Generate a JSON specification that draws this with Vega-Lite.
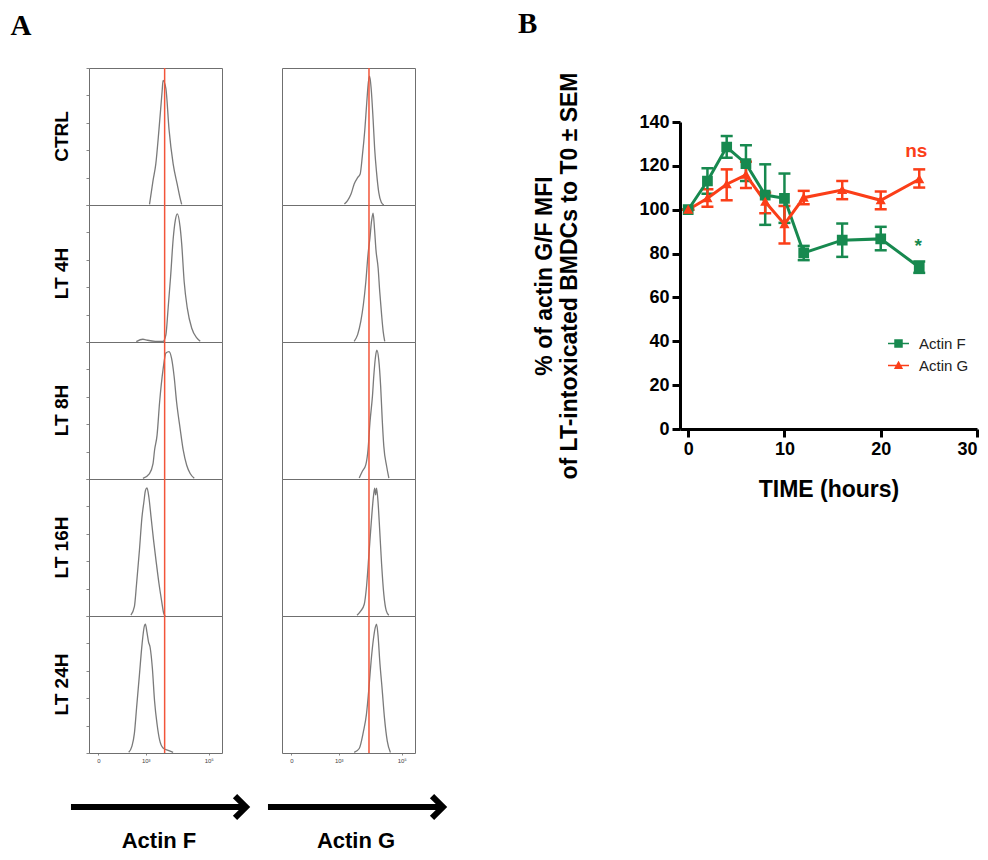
{
  "$schema": "https://vega.github.io/schema/vega-lite/v6.json",
  "background": "white",
  "padding": {"left": 10, "top": 10, "right": 3, "bottom": 2},
  "config": {"view": {"stroke": null}, "font": "Liberation Sans", "axisX": {"labelOverlap": false}, "axis": {"labelOverlap": false}},
  "datasets": {
    "hist": [
      {"kind":"c","cond":"CTRL","ch":"Actin F","x":3.12,"y":0.5},{"kind":"c","cond":"CTRL","ch":"Actin F","x":3.23,"y":17.6},{"kind":"c","cond":"CTRL","ch":"Actin F","x":3.32,"y":30},{"kind":"c","cond":"CTRL","ch":"Actin F","x":3.42,"y":55},{"kind":"c","cond":"CTRL","ch":"Actin F","x":3.52,"y":83},{"kind":"c","cond":"CTRL","ch":"Actin F","x":3.55,"y":91},{"kind":"c","cond":"CTRL","ch":"Actin F","x":3.64,"y":85},{"kind":"c","cond":"CTRL","ch":"Actin F","x":3.74,"y":55},{"kind":"c","cond":"CTRL","ch":"Actin F","x":3.87,"y":30},{"kind":"c","cond":"CTRL","ch":"Actin F","x":4.0,"y":15},{"kind":"c","cond":"CTRL","ch":"Actin F","x":4.09,"y":5},{"kind":"c","cond":"CTRL","ch":"Actin F","x":4.14,"y":0.5},
      {"kind":"c","cond":"LT 4H","ch":"Actin F","x":2.7,"y":0.3},{"kind":"c","cond":"LT 4H","ch":"Actin F","x":2.91,"y":2},{"kind":"c","cond":"LT 4H","ch":"Actin F","x":3.01,"y":1.5},{"kind":"c","cond":"LT 4H","ch":"Actin F","x":3.3,"y":0.5},{"kind":"c","cond":"LT 4H","ch":"Actin F","x":3.55,"y":0.5},{"kind":"c","cond":"LT 4H","ch":"Actin F","x":3.64,"y":5.3},{"kind":"c","cond":"LT 4H","ch":"Actin F","x":3.71,"y":24.5},{"kind":"c","cond":"LT 4H","ch":"Actin F","x":3.79,"y":48},{"kind":"c","cond":"LT 4H","ch":"Actin F","x":3.87,"y":75},{"kind":"c","cond":"LT 4H","ch":"Actin F","x":3.94,"y":89},{"kind":"c","cond":"LT 4H","ch":"Actin F","x":4.0,"y":93.5},{"kind":"c","cond":"LT 4H","ch":"Actin F","x":4.09,"y":84},{"kind":"c","cond":"LT 4H","ch":"Actin F","x":4.14,"y":72},{"kind":"c","cond":"LT 4H","ch":"Actin F","x":4.22,"y":44},{"kind":"c","cond":"LT 4H","ch":"Actin F","x":4.32,"y":24.5},{"kind":"c","cond":"LT 4H","ch":"Actin F","x":4.46,"y":10},{"kind":"c","cond":"LT 4H","ch":"Actin F","x":4.62,"y":3},{"kind":"c","cond":"LT 4H","ch":"Actin F","x":4.73,"y":0.5},
      {"kind":"c","cond":"LT 8H","ch":"Actin F","x":2.91,"y":0.5},{"kind":"c","cond":"LT 8H","ch":"Actin F","x":3.12,"y":4},{"kind":"c","cond":"LT 8H","ch":"Actin F","x":3.23,"y":11},{"kind":"c","cond":"LT 8H","ch":"Actin F","x":3.28,"y":21},{"kind":"c","cond":"LT 8H","ch":"Actin F","x":3.36,"y":32},{"kind":"c","cond":"LT 8H","ch":"Actin F","x":3.44,"y":56},{"kind":"c","cond":"LT 8H","ch":"Actin F","x":3.55,"y":80},{"kind":"c","cond":"LT 8H","ch":"Actin F","x":3.64,"y":92},{"kind":"c","cond":"LT 8H","ch":"Actin F","x":3.74,"y":93},{"kind":"c","cond":"LT 8H","ch":"Actin F","x":3.82,"y":88},{"kind":"c","cond":"LT 8H","ch":"Actin F","x":3.9,"y":75},{"kind":"c","cond":"LT 8H","ch":"Actin F","x":3.98,"y":56},{"kind":"c","cond":"LT 8H","ch":"Actin F","x":4.09,"y":37},{"kind":"c","cond":"LT 8H","ch":"Actin F","x":4.19,"y":21},{"kind":"c","cond":"LT 8H","ch":"Actin F","x":4.3,"y":10},{"kind":"c","cond":"LT 8H","ch":"Actin F","x":4.41,"y":4},{"kind":"c","cond":"LT 8H","ch":"Actin F","x":4.54,"y":0.5},
      {"kind":"c","cond":"LT 16H","ch":"Actin F","x":2.53,"y":0.7},{"kind":"c","cond":"LT 16H","ch":"Actin F","x":2.64,"y":6.8},{"kind":"c","cond":"LT 16H","ch":"Actin F","x":2.71,"y":23.7},{"kind":"c","cond":"LT 16H","ch":"Actin F","x":2.8,"y":48},{"kind":"c","cond":"LT 16H","ch":"Actin F","x":2.88,"y":72},{"kind":"c","cond":"LT 16H","ch":"Actin F","x":2.94,"y":83},{"kind":"c","cond":"LT 16H","ch":"Actin F","x":2.99,"y":91.5},{"kind":"c","cond":"LT 16H","ch":"Actin F","x":3.04,"y":93.5},{"kind":"c","cond":"LT 16H","ch":"Actin F","x":3.1,"y":86.7},{"kind":"c","cond":"LT 16H","ch":"Actin F","x":3.17,"y":72},{"kind":"c","cond":"LT 16H","ch":"Actin F","x":3.25,"y":55},{"kind":"c","cond":"LT 16H","ch":"Actin F","x":3.34,"y":38},{"kind":"c","cond":"LT 16H","ch":"Actin F","x":3.42,"y":23.7},{"kind":"c","cond":"LT 16H","ch":"Actin F","x":3.5,"y":11.6},{"kind":"c","cond":"LT 16H","ch":"Actin F","x":3.57,"y":2},{"kind":"c","cond":"LT 16H","ch":"Actin F","x":3.62,"y":0},
      {"kind":"c","cond":"LT 24H","ch":"Actin F","x":2.46,"y":0.5},{"kind":"c","cond":"LT 24H","ch":"Actin F","x":2.56,"y":4.8},{"kind":"c","cond":"LT 24H","ch":"Actin F","x":2.64,"y":14.3},{"kind":"c","cond":"LT 24H","ch":"Actin F","x":2.71,"y":33},{"kind":"c","cond":"LT 24H","ch":"Actin F","x":2.8,"y":57},{"kind":"c","cond":"LT 24H","ch":"Actin F","x":2.88,"y":78.6},{"kind":"c","cond":"LT 24H","ch":"Actin F","x":2.96,"y":93},{"kind":"c","cond":"LT 24H","ch":"Actin F","x":2.99,"y":94},{"kind":"c","cond":"LT 24H","ch":"Actin F","x":3.04,"y":88},{"kind":"c","cond":"LT 24H","ch":"Actin F","x":3.09,"y":81},{"kind":"c","cond":"LT 24H","ch":"Actin F","x":3.14,"y":77},{"kind":"c","cond":"LT 24H","ch":"Actin F","x":3.21,"y":62},{"kind":"c","cond":"LT 24H","ch":"Actin F","x":3.28,"y":38},{"kind":"c","cond":"LT 24H","ch":"Actin F","x":3.36,"y":21},{"kind":"c","cond":"LT 24H","ch":"Actin F","x":3.44,"y":9.5},{"kind":"c","cond":"LT 24H","ch":"Actin F","x":3.55,"y":3.6},{"kind":"c","cond":"LT 24H","ch":"Actin F","x":3.71,"y":1.9},{"kind":"c","cond":"LT 24H","ch":"Actin F","x":3.87,"y":0.5},
      {"kind":"c","cond":"CTRL","ch":"Actin G","x":3.18,"y":0.7},{"kind":"c","cond":"CTRL","ch":"Actin G","x":3.28,"y":3.2},{"kind":"c","cond":"CTRL","ch":"Actin G","x":3.39,"y":8},{"kind":"c","cond":"CTRL","ch":"Actin G","x":3.49,"y":15.3},{"kind":"c","cond":"CTRL","ch":"Actin G","x":3.6,"y":20},{"kind":"c","cond":"CTRL","ch":"Actin G","x":3.68,"y":22.6},{"kind":"c","cond":"CTRL","ch":"Actin G","x":3.75,"y":36},{"kind":"c","cond":"CTRL","ch":"Actin G","x":3.83,"y":55.5},{"kind":"c","cond":"CTRL","ch":"Actin G","x":3.89,"y":75},{"kind":"c","cond":"CTRL","ch":"Actin G","x":3.94,"y":89.5},{"kind":"c","cond":"CTRL","ch":"Actin G","x":3.98,"y":94},{"kind":"c","cond":"CTRL","ch":"Actin G","x":4.03,"y":84.7},{"kind":"c","cond":"CTRL","ch":"Actin G","x":4.09,"y":62.8},{"kind":"c","cond":"CTRL","ch":"Actin G","x":4.14,"y":41},{"kind":"c","cond":"CTRL","ch":"Actin G","x":4.2,"y":23.8},{"kind":"c","cond":"CTRL","ch":"Actin G","x":4.27,"y":9.2},{"kind":"c","cond":"CTRL","ch":"Actin G","x":4.35,"y":2},{"kind":"c","cond":"CTRL","ch":"Actin G","x":4.43,"y":0},
      {"kind":"c","cond":"LT 4H","ch":"Actin G","x":3.49,"y":0.5},{"kind":"c","cond":"LT 4H","ch":"Actin G","x":3.6,"y":5.4},{"kind":"c","cond":"LT 4H","ch":"Actin G","x":3.7,"y":15},{"kind":"c","cond":"LT 4H","ch":"Actin G","x":3.78,"y":27},{"kind":"c","cond":"LT 4H","ch":"Actin G","x":3.86,"y":44},{"kind":"c","cond":"LT 4H","ch":"Actin G","x":3.93,"y":64},{"kind":"c","cond":"LT 4H","ch":"Actin G","x":3.99,"y":76},{"kind":"c","cond":"LT 4H","ch":"Actin G","x":4.04,"y":88},{"kind":"c","cond":"LT 4H","ch":"Actin G","x":4.09,"y":94},{"kind":"c","cond":"LT 4H","ch":"Actin G","x":4.14,"y":81},{"kind":"c","cond":"LT 4H","ch":"Actin G","x":4.18,"y":67.6},{"kind":"c","cond":"LT 4H","ch":"Actin G","x":4.25,"y":54},{"kind":"c","cond":"LT 4H","ch":"Actin G","x":4.3,"y":37},{"kind":"c","cond":"LT 4H","ch":"Actin G","x":4.36,"y":20},{"kind":"c","cond":"LT 4H","ch":"Actin G","x":4.41,"y":7.8},{"kind":"c","cond":"LT 4H","ch":"Actin G","x":4.46,"y":0.5},
      {"kind":"c","cond":"LT 8H","ch":"Actin G","x":3.65,"y":0.7},{"kind":"c","cond":"LT 8H","ch":"Actin G","x":3.75,"y":5.6},{"kind":"c","cond":"LT 8H","ch":"Actin G","x":3.86,"y":10.5},{"kind":"c","cond":"LT 8H","ch":"Actin G","x":3.93,"y":21.5},{"kind":"c","cond":"LT 8H","ch":"Actin G","x":3.99,"y":41},{"kind":"c","cond":"LT 8H","ch":"Actin G","x":4.07,"y":60.5},{"kind":"c","cond":"LT 8H","ch":"Actin G","x":4.12,"y":77.6},{"kind":"c","cond":"LT 8H","ch":"Actin G","x":4.17,"y":89.8},{"kind":"c","cond":"LT 8H","ch":"Actin G","x":4.21,"y":94},{"kind":"c","cond":"LT 8H","ch":"Actin G","x":4.27,"y":87},{"kind":"c","cond":"LT 8H","ch":"Actin G","x":4.33,"y":67.8},{"kind":"c","cond":"LT 8H","ch":"Actin G","x":4.38,"y":43.4},{"kind":"c","cond":"LT 8H","ch":"Actin G","x":4.43,"y":24},{"kind":"c","cond":"LT 8H","ch":"Actin G","x":4.52,"y":9.3},{"kind":"c","cond":"LT 8H","ch":"Actin G","x":4.59,"y":0.7},
      {"kind":"c","cond":"LT 16H","ch":"Actin G","x":3.58,"y":0.5},{"kind":"c","cond":"LT 16H","ch":"Actin G","x":3.7,"y":3.7},{"kind":"c","cond":"LT 16H","ch":"Actin G","x":3.81,"y":8.6},{"kind":"c","cond":"LT 16H","ch":"Actin G","x":3.88,"y":21},{"kind":"c","cond":"LT 16H","ch":"Actin G","x":3.96,"y":45.5},{"kind":"c","cond":"LT 16H","ch":"Actin G","x":4.03,"y":67.6},{"kind":"c","cond":"LT 16H","ch":"Actin G","x":4.1,"y":87},{"kind":"c","cond":"LT 16H","ch":"Actin G","x":4.14,"y":93.4},{"kind":"c","cond":"LT 16H","ch":"Actin G","x":4.17,"y":88.5},{"kind":"c","cond":"LT 16H","ch":"Actin G","x":4.2,"y":93.4},{"kind":"c","cond":"LT 16H","ch":"Actin G","x":4.25,"y":82.3},{"kind":"c","cond":"LT 16H","ch":"Actin G","x":4.3,"y":62.7},{"kind":"c","cond":"LT 16H","ch":"Actin G","x":4.36,"y":38},{"kind":"c","cond":"LT 16H","ch":"Actin G","x":4.43,"y":16},{"kind":"c","cond":"LT 16H","ch":"Actin G","x":4.51,"y":3.7},{"kind":"c","cond":"LT 16H","ch":"Actin G","x":4.59,"y":0.5},
      {"kind":"c","cond":"LT 24H","ch":"Actin G","x":3.49,"y":0.4},{"kind":"c","cond":"LT 24H","ch":"Actin G","x":3.65,"y":3.3},{"kind":"c","cond":"LT 24H","ch":"Actin G","x":3.78,"y":15.3},{"kind":"c","cond":"LT 24H","ch":"Actin G","x":3.88,"y":28.4},{"kind":"c","cond":"LT 24H","ch":"Actin G","x":3.96,"y":48},{"kind":"c","cond":"LT 24H","ch":"Actin G","x":4.03,"y":67.7},{"kind":"c","cond":"LT 24H","ch":"Actin G","x":4.1,"y":83},{"kind":"c","cond":"LT 24H","ch":"Actin G","x":4.16,"y":91.7},{"kind":"c","cond":"LT 24H","ch":"Actin G","x":4.2,"y":94},{"kind":"c","cond":"LT 24H","ch":"Actin G","x":4.25,"y":85},{"kind":"c","cond":"LT 24H","ch":"Actin G","x":4.3,"y":67.7},{"kind":"c","cond":"LT 24H","ch":"Actin G","x":4.38,"y":45.9},{"kind":"c","cond":"LT 24H","ch":"Actin G","x":4.45,"y":26},{"kind":"c","cond":"LT 24H","ch":"Actin G","x":4.54,"y":8.7},{"kind":"c","cond":"LT 24H","ch":"Actin G","x":4.64,"y":0.4},
      {"kind":"g","cond":"CTRL","ch":"Actin F","x":3.6},{"kind":"g","cond":"LT 4H","ch":"Actin F","x":3.6},{"kind":"g","cond":"LT 8H","ch":"Actin F","x":3.6},{"kind":"g","cond":"LT 16H","ch":"Actin F","x":3.6},{"kind":"g","cond":"LT 24H","ch":"Actin F","x":3.6},
      {"kind":"g","cond":"CTRL","ch":"Actin G","x":3.96},{"kind":"g","cond":"LT 4H","ch":"Actin G","x":3.96},{"kind":"g","cond":"LT 8H","ch":"Actin G","x":3.96},{"kind":"g","cond":"LT 16H","ch":"Actin G","x":3.96},{"kind":"g","cond":"LT 24H","ch":"Actin G","x":3.96}
    ],
    "arrows": [
      {"ch": "Actin F", "x0": 0, "x1": 1},
      {"ch": "Actin G", "x0": 0, "x1": 1}
    ],
    "ts": [
      {"series":"Actin F","t":0,"mean":100,"lo":100,"hi":100},
      {"series":"Actin F","t":2,"mean":113.1,"lo":107.3,"hi":118.9},
      {"series":"Actin F","t":4,"mean":128.6,"lo":123.7,"hi":133.6},
      {"series":"Actin F","t":6,"mean":121.0,"lo":113.1,"hi":129.4},
      {"series":"Actin F","t":8,"mean":106.7,"lo":93.1,"hi":120.7},
      {"series":"Actin F","t":10,"mean":105.2,"lo":94.0,"hi":116.5},
      {"series":"Actin F","t":12,"mean":80.3,"lo":77.0,"hi":83.5},
      {"series":"Actin F","t":16,"mean":86.1,"lo":78.5,"hi":93.7},
      {"series":"Actin F","t":20,"mean":86.7,"lo":81.5,"hi":92.2},
      {"series":"Actin F","t":24,"mean":73.8,"lo":71.2,"hi":76.4},
      {"series":"Actin G","t":0,"mean":100,"lo":100,"hi":100},
      {"series":"Actin G","t":2,"mean":105.2,"lo":101.3,"hi":109.3},
      {"series":"Actin G","t":4,"mean":111.6,"lo":104.3,"hi":118.4},
      {"series":"Actin G","t":6,"mean":115.9,"lo":109.9,"hi":121.9},
      {"series":"Actin G","t":8,"mean":103.6,"lo":98.4,"hi":107.8},
      {"series":"Actin G","t":10,"mean":93.4,"lo":84.6,"hi":101.7},
      {"series":"Actin G","t":12,"mean":105.5,"lo":102.5,"hi":108.6},
      {"series":"Actin G","t":16,"mean":109.0,"lo":104.8,"hi":113.1},
      {"series":"Actin G","t":20,"mean":104.3,"lo":100.2,"hi":108.3},
      {"series":"Actin G","t":24,"mean":113.9,"lo":110.1,"hi":118.4}
    ],
    "ann": [
      {"series":"Actin G","t":23.7,"v":126.8,"label":"ns"},
      {"series":"Actin F","t":23.9,"v":83.5,"label":"*"}
    ]
  },
  "spacing": 62,
  "hconcat": [
    {
      "title": {"text": "A", "anchor": "start", "font": "Liberation Serif", "fontSize": 29, "fontWeight": "bold", "color": "black", "offset": 26, "dx": -42},
      "spacing": 21,
      "vconcat": [
        {
          "data": {"name": "hist"},
          "bounds": "flush",
          "facet": {
            "row": {"field": "cond", "type": "nominal", "sort": ["CTRL", "LT 4H", "LT 8H", "LT 16H", "LT 24H"], "title": null,
              "header": {"labelAngle": -90, "labelOrient": "left", "labelFontSize": 19, "labelFontWeight": "bold", "labelFont": "Liberation Sans", "labelColor": "black", "labelPadding": 5}},
            "column": {"field": "ch", "type": "nominal", "title": null, "header": {"labels": false}}
          },
          "spacing": {"row": 0, "column": 60},
          "spec": {
            "width": 133,
            "height": 137,
            "view": {"stroke": "#6f6f6f", "strokeWidth": 1},
            "layer": [
              {
                "transform": [{"filter": "datum.kind === 'c'"}],
                "mark": {"type": "line", "color": "#7a7a7a", "strokeWidth": 1.3, "interpolate": "monotone"},
                "encoding": {
                  "x": {"field": "x", "type": "quantitative", "scale": {"domain": [1.2, 5.42], "nice": false, "zero": false},
                    "axis": {"values": [1.5, 2, 3, 4, 5], "labelExpr": "datum.value === 1.5 ? '0' : datum.value === 2 ? '10²' : datum.value === 3 ? '10³' : datum.value === 4 ? '10⁴' : '10⁵'", "labelOverlap": false, "labelBound": false, "labelFlush": false, "labelSeparation": 0, "domain": false, "grid": false, "tickSize": 2, "tickColor": "#888", "labelFontSize": 6, "labelColor": "#444", "labelPadding": 2, "title": null}},
                  "y": {"field": "y", "type": "quantitative", "scale": {"domain": [0, 100], "nice": false},
                    "axis": {"labels": false, "domain": false, "grid": false, "tickCount": 5, "tickSize": 3, "tickColor": "#888", "title": null}}
                }
              },
              {
                "transform": [{"filter": "datum.kind === 'g'"}],
                "mark": {"type": "rule", "color": "#f2553a", "strokeWidth": 1.5},
                "encoding": {"x": {"field": "x", "type": "quantitative"}}
              }
            ]
          }
        },
        {
          "data": {"name": "arrows"},
          "bounds": "flush",
          "facet": {
            "column": {"field": "ch", "type": "nominal", "title": null,
              "header": {"labelOrient": "bottom", "labelFontSize": 22, "labelFontWeight": "bold", "labelFont": "Liberation Sans", "labelColor": "black", "labelPadding": 12}}
          },
          "spacing": 57,
          "spec": {
            "width": 140,
            "height": 24,
            "layer": [
              {
                "mark": {"type": "rule", "strokeWidth": 6, "color": "black", "strokeCap": "butt"},
                "encoding": {
                  "x": {"field": "x0", "type": "quantitative", "scale": {"domain": [0.103, 0.903], "nice": false, "zero": false}, "axis": null},
                  "x2": {"field": "x1"},
                  "y": {"datum": 0, "type": "quantitative", "scale": {"domain": [-1, 1]}, "axis": null}
                }
              },
              {
                "mark": {"type": "point", "shape": "M-1,-1L0,0L-1,1", "filled": false, "stroke": "black", "strokeWidth": 6, "size": 480, "opacity": 1, "strokeJoin": "miter", "strokeCap": "butt"},
                "encoding": {
                  "x": {"field": "x1", "type": "quantitative"},
                  "y": {"datum": 0, "type": "quantitative"}
                }
              }
            ]
          }
        }
      ]
    },
    {
      "title": {"text": "B", "anchor": "start", "font": "Liberation Serif", "fontSize": 29, "fontWeight": "bold", "color": "black", "offset": 29, "dx": -16},
      "spacing": 0,
      "vconcat": [
        {
          "width": 10,
          "height": 3,
          "data": {"values": []},
          "mark": "point",
          "encoding": {}
        },
        {
          "width": 297,
          "height": 307,
          "data": {"name": "ts"},
          "encoding": {
            "x": {"field": "t", "type": "quantitative", "scale": {"domain": [-0.85, 30], "nice": false, "zero": false},
              "axis": {"values": [0, 10, 20, 30], "grid": false, "domainWidth": 3, "domainColor": "black", "tickWidth": 3, "tickSize": 8, "tickColor": "black", "labelFontSize": 18, "labelFontWeight": "bold", "labelColor": "black", "labelFont": "Liberation Sans", "labelPadding": 3, "title": "TIME (hours)", "titleFontSize": 23, "titleFontWeight": "bold", "titleColor": "black", "titleFont": "Liberation Sans", "titlePadding": 20}}
          },
          "layer": [
            {
              "mark": {"type": "errorbar", "ticks": {"size": 12}, "thickness": 2.5, "opacity": 1},
              "encoding": {
                "y": {"field": "lo", "type": "quantitative", "scale": {"domain": [0, 140], "nice": false},
                  "axis": {"values": [0, 20, 40, 60, 80, 100, 120, 140], "grid": false, "domainWidth": 3, "domainColor": "black", "tickWidth": 3, "tickSize": 8, "tickColor": "black", "labelFontSize": 18, "labelFontWeight": "bold", "labelColor": "black", "labelFont": "Liberation Sans", "labelPadding": 3,
                    "title": ["% of actin G/F MFI", "of LT-intoxicated BMDCs to T0 ± SEM"], "titleFontSize": 23, "titleFontWeight": "bold", "titleColor": "black", "titleFont": "Liberation Sans", "titlePadding": 57, "titleLineHeight": 25}},
                "y2": {"field": "hi"},
                "color": {"field": "series", "type": "nominal", "scale": {"domain": ["Actin F", "Actin G"], "range": ["#17894f", "#fb3e18"]}}
              }
            },
            {
              "mark": {"type": "line", "strokeWidth": 3},
              "encoding": {
                "y": {"field": "mean", "type": "quantitative"},
                "color": {"field": "series", "type": "nominal"}
              }
            },
            {
              "mark": {"type": "point", "filled": true, "size": 115, "opacity": 1},
              "encoding": {
                "y": {"field": "mean", "type": "quantitative"},
                "color": {"field": "series", "type": "nominal",
                  "legend": {"orient": "none", "legendX": 802, "legendY": 268, "title": null, "padding": 0, "labelFontSize": 15, "labelFont": "Liberation Sans", "labelColor": "#222", "symbolSize": 49, "rowPadding": 6, "labelOffset": 13,
                    "encode": {"symbols": {"update": {"stroke": {"scale": "color", "field": "value"}, "strokeWidth": {"value": 2.5}}}}}},
                "shape": {"field": "series", "type": "nominal", "scale": {"domain": ["Actin F", "Actin G"], "range": ["M-3,0H3M-1,-1H1V1H-1Z", "M-3,0H3M0,-0.95L0.95,0.75H-0.95Z"]},
                  "legend": {"orient": "none", "legendX": 802, "legendY": 268, "title": null, "padding": 0, "labelFontSize": 15, "labelFont": "Liberation Sans", "labelColor": "#222", "symbolSize": 49, "rowPadding": 6, "labelOffset": 13,
                    "encode": {"symbols": {"update": {"stroke": {"scale": "color", "field": "value"}, "strokeWidth": {"value": 2.5}}}}}}
              }
            },
            {
              "data": {"name": "ann"},
              "mark": {"type": "text", "fontWeight": "bold", "font": "Liberation Sans", "fontSize": 19, "baseline": "middle", "align": "center"},
              "encoding": {
                "y": {"field": "v", "type": "quantitative"},
                "text": {"field": "label"},
                "color": {"field": "series", "type": "nominal"}
              }
            }
          ]
        }
      ]
    }
  ]
}
